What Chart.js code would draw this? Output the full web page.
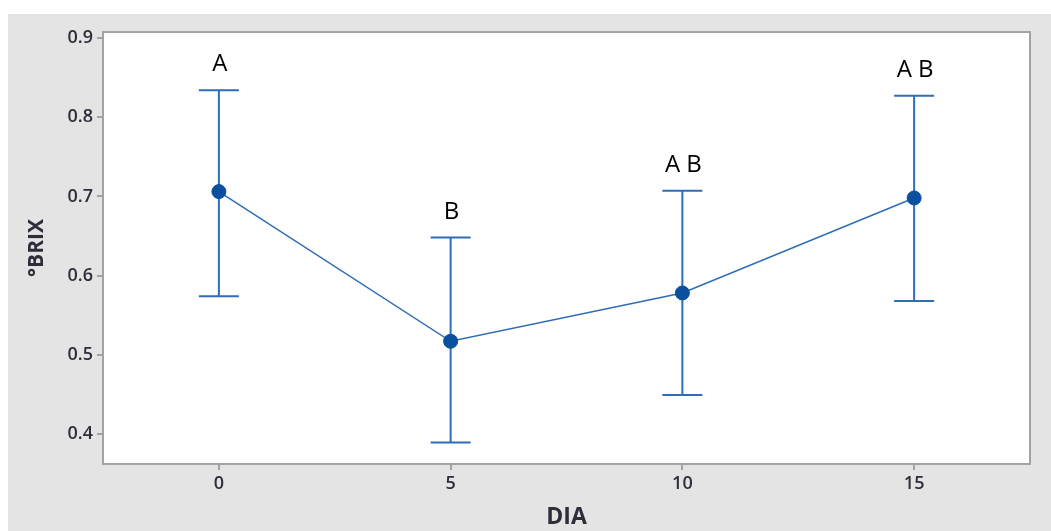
<!DOCTYPE html>
<html>
<head>
<meta charset="utf-8">
<script src="https://cdn.jsdelivr.net/npm/chart.js@4.4.1/dist/chart.umd.min.js"></script>
<style>
  body { margin: 0; background: #ffffff; }
  canvas { display: block; }
</style>
</head>
<body>
<canvas id="brix-chart" width="1051" height="531"></canvas>
<script>
// Chart data
const days = ['0', '5', '10', '15'];
const brixMean = [0.706, 0.517, 0.578, 0.698];
const brixUpper = [0.834, 0.648, 0.707, 0.827];
const brixLower = [0.574, 0.389, 0.449, 0.568];
const groupLetters = ['A', 'B', 'A B', 'A B'];

const lineBlue = '#2f6db6';
const markerBlue = '#0b4f9f';
const frameGray = '#a3a3a3';
const panelGray = '#e4e4e4';
const textDark = '#2e2e3a';

// grey panel + white plot area behind everything
const backgroundPlugin = {
    id: 'panelBackground',
    beforeDraw(chart) {
        const ctx = chart.ctx;
        const a = chart.chartArea;
        ctx.save();
        ctx.fillStyle = '#ffffff';
        ctx.fillRect(0, 0, chart.width, chart.height);
        ctx.fillStyle = panelGray;
        ctx.fillRect(8, 14, chart.width - 8, chart.height - 14);
        ctx.fillStyle = '#ffffff';
        ctx.fillRect(a.left, a.top, a.right - a.left, a.bottom - a.top);
        ctx.restore();
    }
};

// error bars under the points, frame round the plot area
const errorBarPlugin = {
    id: 'errorBars',
    beforeDatasetsDraw(chart) {
        const ctx = chart.ctx;
        const xs = chart.scales.x;
        const ys = chart.scales.y;
        const a = chart.chartArea;
        ctx.save();
        ctx.strokeStyle = frameGray;
        ctx.lineWidth = 2;
        ctx.strokeRect(a.left, a.top, a.right - a.left, a.bottom - a.top);

        ctx.strokeStyle = lineBlue;
        ctx.lineWidth = 2;
        const capHalf = 20;
        days.forEach((d, i) => {
            const x = xs.getPixelForValue(i);
            const yTop = ys.getPixelForValue(brixUpper[i]);
            const yBot = ys.getPixelForValue(brixLower[i]);
            ctx.beginPath();
            ctx.moveTo(x, yTop);
            ctx.lineTo(x, yBot);
            ctx.moveTo(x - capHalf, yTop);
            ctx.lineTo(x + capHalf, yTop);
            ctx.moveTo(x - capHalf, yBot);
            ctx.lineTo(x + capHalf, yBot);
            ctx.stroke();
        });
        ctx.restore();
    },
    afterDatasetsDraw(chart) {
        // group letters above each upper cap
        const ctx = chart.ctx;
        const xs = chart.scales.x;
        const ys = chart.scales.y;
        ctx.save();
        ctx.fillStyle = '#000000';
        ctx.font = '24px "Open Sans", sans-serif';
        ctx.textAlign = 'center';
        ctx.textBaseline = 'alphabetic';
        groupLetters.forEach((txt, i) => {
            const x = xs.getPixelForValue(i);
            const y = ys.getPixelForValue(brixUpper[i]) - 19;
            ctx.fillText(txt, x + 1, y);
        });
        ctx.restore();
    }
};

const ctx = document.getElementById('brix-chart').getContext('2d');
const brixChart = new Chart(ctx, {
    type: 'line',
    data: {
        labels: days,
        datasets: [{
            label: '°BRIX',
            data: brixMean,
            borderColor: lineBlue,
            borderWidth: 1.5,
            pointRadius: 7,
            pointBackgroundColor: markerBlue,
            pointBorderColor: markerBlue,
            pointBorderWidth: 1,
            tension: 0,
            fill: false
        }]
    },
    options: {
        responsive: false,
        animation: false,
        layout: { padding: { left: 8, top: 32, right: 21, bottom: 0 } },
        plugins: {
            legend: { display: false },
            tooltip: { enabled: false }
        },
        scales: {
            x: {
                type: 'category',
                offset: true,
                grid: {
                    display: true,
                    offset: false,
                    drawOnChartArea: false,
                    drawTicks: true,
                    tickLength: 6,
                    color: frameGray,
                    lineWidth: 2
                },
                border: { display: false },
                ticks: {
                    color: textDark,
                    padding: 3,
                    font: { family: '"Open Sans", sans-serif', size: 18, weight: '600' }
                },
                title: {
                    display: true,
                    text: 'DIA',
                    color: textDark,
                    padding: { top: 2, bottom: 0 },
                    font: { family: '"Open Sans", sans-serif', size: 23, weight: 'bold' }
                },
                afterFit(scale) { scale.height = 67; }
            },
            y: {
                min: 0.362,
                max: 0.9076,
                grid: {
                    display: true,
                    drawOnChartArea: false,
                    drawTicks: true,
                    tickLength: 6,
                    color: frameGray,
                    lineWidth: 2
                },
                border: { display: false },
                ticks: {
                    stepSize: 0.1,
                    includeBounds: false,
                    color: textDark,
                    padding: 4,
                    font: { family: '"Open Sans", sans-serif', size: 18, weight: '600' },
                    callback: v => v.toFixed(1)
                },
                title: {
                    display: true,
                    text: '°BRIX',
                    color: textDark,
                    padding: { top: 16, bottom: 0 },
                    font: { family: '"Open Sans", sans-serif', size: 21, weight: 'bold' }
                },
                afterFit(scale) { scale.width = 95; }
            }
        }
    },
    plugins: [backgroundPlugin, errorBarPlugin]
});
</script>
</body>
</html>
